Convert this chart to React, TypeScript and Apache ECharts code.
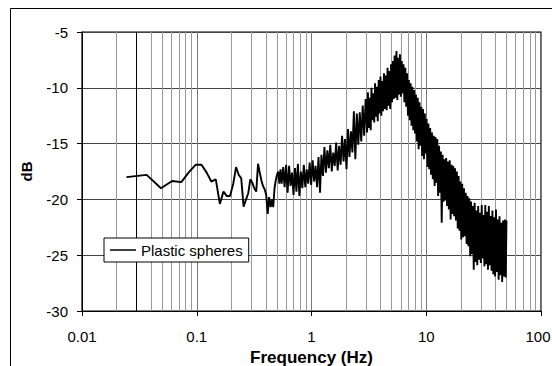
import React, { useEffect, useRef } from "react";
import * as echarts from "echarts";

// ---- axis ticks / grid values ----
const xTickLabels = ["0.01", "0.1", "1", "10", "100"];
const yMin = -30;
const yMax = -5;
const yStep = 5;
const minorGridHz = [
  0.02, 0.03, 0.04, 0.05, 0.06, 0.07, 0.08, 0.09,
  0.2, 0.3, 0.4, 0.5, 0.6, 0.7, 0.8, 0.9,
  2, 3, 4, 5, 6, 7, 8, 9,
  20, 30, 40, 50, 60, 70, 80, 90,
];
const darkGridHz = [0.03];

const seriesName = "Plastic spheres";

// ---- spectrum: [frequency Hz, level dB] ----
const sparsePoints: [number, number][] = [
  [0.0244, -18.0], [0.0366, -17.8], [0.0488, -19.0], [0.061, -18.35], [0.0733, -18.45],
  [0.0855, -17.55], [0.0977, -16.9], [0.110, -16.9], [0.122, -17.6], [0.134, -18.4],
  [0.1465, -18.2], [0.159, -20.4], [0.171, -19.3], [0.183, -19.7], [0.195, -19.7],
  [0.208, -18.6], [0.220, -17.1], [0.232, -17.8], [0.244, -18.1], [0.256, -20.65],
  [0.269, -20.0], [0.281, -19.45], [0.293, -18.2], [0.305, -18.5], [0.317, -19.0],
  [0.330, -19.3], [0.342, -16.8], [0.354, -17.6], [0.366, -18.3], [0.378, -18.8],
  [0.391, -19.1], [0.403, -19.6], [0.415, -21.3], [0.427, -19.8], [0.440, -20.7],
  [0.452, -20.0], [0.464, -20.7], [0.476, -19.0], [0.488, -18.3], [0.500, -17.8],
  [0.513, -17.5], [0.525, -18.6], [0.537, -17.3],
];

const risePoints: [number, number][] = [
  [0.55, -18.6], [0.567, -17.1], [0.583, -18.9], [0.601, -16.9], [0.619, -19.4],
  [0.638, -17.0], [0.657, -18.8], [0.677, -17.6], [0.697, -19.6], [0.718, -17.2],
  [0.739, -19.3], [0.761, -16.8], [0.784, -19.7], [0.808, -17.5], [0.832, -19.0],
  [0.857, -16.9], [0.883, -18.9], [0.909, -17.3], [0.936, -18.6], [0.964, -16.7],
  [0.993, -18.7], [1.023, -16.5], [1.054, -18.4], [1.085, -17.0], [1.118, -18.9],
  [1.151, -16.2], [1.186, -19.4], [1.221, -16.0], [1.258, -17.9], [1.296, -15.3],
  [1.335, -17.6], [1.375, -15.6], [1.416, -17.2], [1.458, -15.1], [1.502, -17.5],
  [1.547, -15.8], [1.594, -17.0], [1.641, -14.9], [1.691, -17.4], [1.741, -15.2],
  [1.794, -16.9], [1.847, -14.3], [1.903, -16.6], [1.96, -14.6], [2.019, -17.3],
  [2.079, -13.7], [2.142, -16.2], [2.206, -13.9], [2.272, -15.8], [2.34, -12.1],
  [2.41, -16.4], [2.483, -12.3], [2.557, -15.1], [2.634, -12.2], [2.713, -14.8],
  [2.794, -11.6], [2.878, -14.3], [2.964, -11.0],
];

const peakPoints: [number, number][] = [
  [3.05, -14.0], [3.10, -10.4], [3.16, -13.6], [3.22, -10.9], [3.28, -13.8],
  [3.33, -10.0], [3.39, -12.9], [3.46, -10.5], [3.52, -13.1], [3.58, -9.6],
  [3.65, -12.6], [3.71, -9.9], [3.78, -13.0], [3.85, -9.3], [3.92, -12.3],
  [3.99, -9.0], [4.06, -12.5], [4.13, -9.4], [4.21, -12.1], [4.28, -8.7],
  [4.36, -11.9], [4.44, -8.9], [4.52, -12.0], [4.60, -8.2], [4.68, -11.6],
  [4.77, -8.5], [4.85, -11.9], [4.94, -7.9], [5.03, -11.3], [5.12, -7.6],
  [5.21, -11.0], [5.30, -7.1], [5.40, -10.9], [5.50, -6.7], [5.60, -11.1],
  [5.70, -7.3], [5.80, -10.6], [5.90, -7.0], [6.01, -10.8], [6.12, -7.6],
  [6.23, -10.5], [6.34, -7.9], [6.45, -11.3], [6.57, -8.2], [6.69, -11.7],
  [6.81, -8.7], [6.93, -12.5], [7.05, -9.3], [7.18, -12.9], [7.31, -9.6],
  [7.44, -13.4], [7.57, -9.9], [7.71, -13.8], [7.85, -10.2], [7.99, -14.1],
  [8.13, -10.6], [8.28, -14.8], [8.43, -10.9], [8.58, -15.5], [8.73, -11.3],
  [8.89, -15.2], [9.05, -11.7], [9.21, -16.1], [9.38, -11.9], [9.55, -16.4],
  [9.72, -12.3], [9.89, -15.9], [10.07, -12.8], [10.25, -17.1], [10.44, -13.2],
];

const fallPoints: [number, number][] = [
  [10.62, -17.3], [10.82, -13.6], [11.01, -17.8], [11.21, -14.0], [11.41, -18.2],
  [11.62, -14.3], [11.83, -18.8], [12.04, -14.4], [12.26, -18.5], [12.48, -14.6],
  [12.70, -19.7], [12.93, -15.2], [13.16, -19.4], [13.40, -15.7], [13.64, -22.1],
  [13.89, -16.0], [14.14, -20.2], [14.39, -16.4], [14.65, -20.1], [14.91, -16.3],
  [15.18, -20.6], [15.46, -16.6], [15.73, -20.9], [16.02, -16.5], [16.31, -21.8],
  [16.60, -16.9], [16.90, -21.3], [17.20, -17.0], [17.51, -21.5], [17.83, -17.2],
  [18.15, -21.9], [18.48, -17.5], [18.81, -22.6], [19.15, -17.9], [19.49, -22.8],
  [19.84, -18.4], [20.20, -23.6], [20.57, -18.6], [20.94, -23.4], [21.31, -19.0],
  [21.70, -23.3], [22.09, -19.4], [22.48, -24.0], [22.89, -19.7], [23.30, -24.2],
  [23.72, -19.9], [24.15, -25.1], [24.58, -20.2], [25.02, -24.9], [25.47, -20.6],
  [25.93, -26.3], [26.40, -20.3], [26.87, -25.6], [27.36, -21.0], [27.85, -25.9],
  [28.35, -20.6], [28.86, -25.4], [29.38, -21.2], [29.91, -25.7], [30.45, -20.5],
  [31.00, -25.3], [31.55, -21.4], [32.12, -26.0], [32.70, -20.5], [33.29, -25.8],
  [33.89, -21.1], [34.50, -26.3], [35.12, -20.6], [35.75, -25.9], [36.39, -21.5],
  [37.05, -26.4], [37.72, -21.0], [38.39, -26.7], [39.09, -21.6], [39.79, -26.9],
  [40.51, -20.9], [41.24, -26.5], [41.98, -21.8], [42.73, -27.2], [43.50, -21.5],
  [44.28, -26.8], [45.08, -22.1], [45.89, -27.4], [46.72, -21.9], [47.56, -26.9],
  [48.41, -21.8], [49.28, -27.0], [50.0, -21.9],
];

const FONT = "'Liberation Sans', Arial, sans-serif";

export default function App() {
  const ref = useRef<HTMLDivElement>(null);

  useEffect(() => {
    if (!ref.current) return;
    const chart = echarts.init(ref.current, null, { renderer: "svg" });
    const data = [...sparsePoints, ...risePoints, ...peakPoints, ...fallPoints];
    const lastTick = xTickLabels.length - 1;

    chart.setOption({
      animation: false,
      backgroundColor: "#fff",
      textStyle: { fontFamily: FONT, color: "#000" },
      graphic: [
        {
          type: "rect",
          shape: { x: 10.5, y: 8.5, width: 700, height: 500 },
          style: { fill: "none", stroke: "#000", lineWidth: 1 },
          silent: true,
          z: -10,
        },
      ],
      grid: {
        left: 82,
        top: 32,
        width: 459,
        height: 279,
        containLabel: false,
        outerBoundsMode: "none",
        show: true,
        borderColor: "#000",
        borderWidth: 1.2,
        backgroundColor: "transparent",
      },
      legend: {
        data: [seriesName],
        left: 104,
        top: 238,
        orient: "horizontal",
        icon: "rect",
        padding: [4, 6, 4, 6],
        itemWidth: 26,
        itemHeight: 1.5,
        itemGap: 5,
        backgroundColor: "#fff",
        borderColor: "#000",
        borderWidth: 1,
        borderRadius: 0,
        itemStyle: { color: "#000", borderWidth: 0 },
        textStyle: { fontFamily: FONT, fontSize: 15, color: "#000", lineHeight: 16 },
      },
      xAxis: {
        type: "log",
        logBase: 10,
        min: 0.01,
        max: 100,
        name: "Frequency (Hz)",
        nameLocation: "middle",
        nameGap: 37,
        nameTextStyle: { fontFamily: FONT, fontSize: 17, fontWeight: "bold", color: "#000" },
        axisLine: { show: true, lineStyle: { color: "#000", width: 1 } },
        axisTick: { show: true, inside: false, length: 5, lineStyle: { color: "#000" } },
        axisLabel: {
          fontFamily: FONT,
          fontSize: 15,
          color: "#000",
          margin: 18,
          formatter: (v: number) => {
            const i = Math.round(Math.log10(v)) + 2;
            const t = xTickLabels[i] ?? "";
            return i === lastTick ? `{last|${t}}` : t;
          },
          rich: {
            last: { fontFamily: FONT, fontSize: 15, color: "#000", padding: [0, 6, 0, 0] },
          },
        },
        splitLine: { show: true, lineStyle: { color: "#777", width: 1 } },
        minorTick: { show: false },
        minorSplitLine: { show: false },
      },
      yAxis: {
        type: "value",
        min: yMin,
        max: yMax,
        interval: yStep,
        name: "dB",
        nameLocation: "middle",
        nameRotate: 90,
        nameGap: 48,
        nameTextStyle: { fontFamily: FONT, fontSize: 15, fontWeight: "bold", color: "#000" },
        axisLine: { show: true, lineStyle: { color: "#000", width: 1 } },
        axisTick: { show: true, inside: false, length: 5, lineStyle: { color: "#000" } },
        axisLabel: { fontFamily: FONT, fontSize: 15, color: "#000", margin: 14 },
        splitLine: { show: true, lineStyle: { color: "#444", width: 1 } },
      },
      series: [
        {
          name: "minor-grid",
          type: "line",
          data: [],
          z: 1,
          silent: true,
          markLine: {
            z: 1,
            silent: true,
            symbol: ["none", "none"],
            label: { show: false },
            animation: false,
            data: minorGridHz.map((v) => ({
              xAxis: v,
              lineStyle: {
                color: darkGridHz.includes(v) ? "#000" : "#999",
                width: 1,
                type: "solid",
              },
            })),
          },
        },
        {
          name: seriesName,
          type: "line",
          data,
          z: 3,
          symbol: "none",
          showSymbol: false,
          smooth: false,
          color: "#000",
          lineStyle: { color: "#000", width: 1.9 },
        },
      ],
    });

    return () => chart.dispose();
  }, []);

  return (
    <div
      ref={ref}
      style={{ position: "absolute", left: 0, top: 0, width: 552, height: 366 }}
    />
  );
}
